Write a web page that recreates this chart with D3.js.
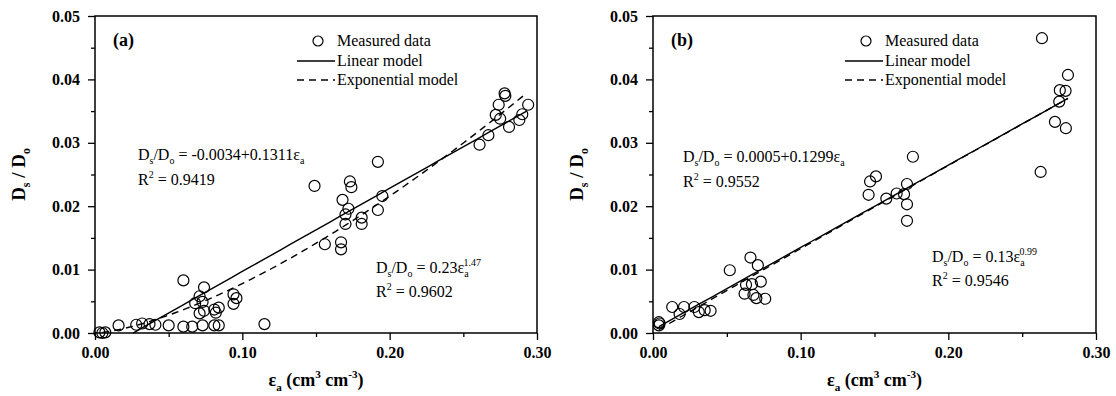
<!DOCTYPE html>
<html>
<head>
<meta charset="utf-8">
<script src="https://cdn.jsdelivr.net/npm/d3@7"></script>
<style>
  html, body { margin: 0; padding: 0; background: #fff; }
  svg { display: block; }
  text { font-family: "Liberation Serif", "Times New Roman", serif; fill: #000; }
</style>
</head>
<body>
<svg id="chart" width="1116" height="396"></svg>
<script>
// Panel (a): air-filled porosity vs relative gas diffusivity
const eaA = [0.003, 0.005, 0.007, 0.016, 0.028, 0.032, 0.037, 0.041, 0.050, 0.060, 0.066, 0.073, 0.081, 0.084, 0.115,
  0.060, 0.074, 0.071, 0.068, 0.073, 0.071, 0.074, 0.081, 0.084, 0.082, 0.094, 0.094, 0.096,
  0.149, 0.156, 0.167, 0.167, 0.168, 0.170, 0.170, 0.172, 0.173, 0.174, 0.181, 0.181, 0.192, 0.192, 0.195,
  0.261, 0.267, 0.272, 0.274, 0.278, 0.2785, 0.275, 0.281, 0.288, 0.290, 0.294];
const dsA = [0.0001, 0.0000, 0.0001, 0.0012, 0.0013, 0.0015, 0.0014, 0.0013, 0.0012, 0.0010, 0.0010, 0.0012, 0.0012, 0.0012, 0.0014,
  0.0083, 0.0072, 0.0058, 0.0047, 0.0049, 0.0031, 0.0035, 0.0037, 0.0040, 0.0032, 0.0061, 0.0046, 0.0055,
  0.0232, 0.0140, 0.0143, 0.0132, 0.0210, 0.0187, 0.0172, 0.0196, 0.0239, 0.0230, 0.0182, 0.0172, 0.0270, 0.0194, 0.0216,
  0.0297, 0.0312, 0.0344, 0.0360, 0.0378, 0.0374, 0.0338, 0.0325, 0.0336, 0.0345, 0.0360];

// Panel (b)
const eaB = [0.004, 0.0045, 0.004, 0.013, 0.018, 0.021, 0.028, 0.031, 0.035, 0.039, 0.052, 0.066, 0.071, 0.063, 0.067, 0.073, 0.062, 0.068, 0.070, 0.076,
  0.146, 0.147, 0.151, 0.158, 0.165, 0.170, 0.172, 0.172, 0.172, 0.176,
  0.2625, 0.2634, 0.2722, 0.2796, 0.2751, 0.2755, 0.2794, 0.281];
const dsB = [0.0012, 0.0015, 0.0017, 0.0041, 0.0030, 0.0041, 0.0041, 0.0033, 0.0036, 0.0035, 0.0099, 0.0119, 0.0107, 0.0076, 0.0077, 0.0081, 0.0062, 0.0060, 0.0055, 0.0054,
  0.0218, 0.0239, 0.0247, 0.0212, 0.0220, 0.0219, 0.0235, 0.0203, 0.0177, 0.0278,
  0.0254, 0.0465, 0.0333, 0.0323, 0.0365, 0.0383, 0.0382, 0.0407];

// Fitted model coefficients: linear (a + b*x) and power (c * x^p)
const linA = [-0.0034, 0.1311], powA = [0.23, 1.47];
const linB = [0.0005, 0.1299], powB = [0.13, 0.99];
const linRangeA = [0.0259, 0.293], powRangeA = [0.005, 0.293];
const linRangeB = [0.004, 0.281], powRangeB = [0.004, 0.281];

const xTicks = [0, 0.10, 0.20, 0.30];
const xMinor = [0.05, 0.15, 0.25];
const yTicks = [0, 0.01, 0.02, 0.03, 0.04, 0.05];
const yMinor = [0.005, 0.015, 0.025, 0.035, 0.045];

const svg = d3.select("#chart");

// Writes a text run with subscripts/superscripts as tspans
function rich(textSel, parts, size) {
  let shift = 0;
  parts.forEach(([t, kind, dx]) => {
    const target = kind === "sub" ? size * 0.28 : kind === "sup" ? -size * 0.42 : 0;
    const ts = textSel.append("tspan").text(t).attr("dy", target - shift);
    if (kind !== "n") ts.attr("font-size", size * 0.62);
    if (dx) ts.attr("dx", dx);
    shift = target;
  });
}

function panel(cfg) {
  const x = d3.scaleLinear().domain([0, 0.30]).range([cfg.left, cfg.right]);
  const y = d3.scaleLinear().domain([0, 0.05]).range([333, 16]);
  const g = svg.append("g");

  // Axes: major ticks with labels, then minor ticks
  const fmtX = d3.format(".2f");
  g.append("g").attr("transform", "translate(0,333)")
    .call(d3.axisBottom(x).tickValues(xTicks).tickFormat(fmtX).tickSize(7).tickPadding(7))
    .call(a => a.select(".domain").remove())
    .call(a => a.selectAll("text").attr("font-size", 16).attr("font-weight", "bold"));
  g.append("g").attr("transform", "translate(0,333)")
    .call(d3.axisBottom(x).tickValues(xMinor).tickFormat("").tickSize(4))
    .call(a => a.select(".domain").remove());
  g.append("g").attr("transform", `translate(${cfg.left},0)`)
    .call(d3.axisLeft(y).tickValues(yTicks).tickFormat(fmtX).tickSize(7).tickPadding(8))
    .call(a => a.select(".domain").remove())
    .call(a => a.selectAll("text").attr("font-size", 16).attr("font-weight", "bold"));
  g.append("g").attr("transform", `translate(${cfg.left},0)`)
    .call(d3.axisLeft(y).tickValues(yMinor).tickFormat("").tickSize(4))
    .call(a => a.select(".domain").remove());
  g.selectAll(".tick line").attr("stroke", "#000").attr("stroke-width", 1.3);

  // Frame
  g.append("rect").attr("x", cfg.left).attr("y", 16)
    .attr("width", cfg.right - cfg.left).attr("height", 317)
    .attr("fill", "none").attr("stroke", "#000").attr("stroke-width", 1.5);

  // Model curves
  const lineGen = d3.line().x(d => x(d[0])).y(d => y(d[1]));
  const linPts = d3.range(0, 41).map(i => {
    const e = cfg.linRange[0] + (cfg.linRange[1] - cfg.linRange[0]) * i / 40;
    return [e, cfg.lin[0] + cfg.lin[1] * e];
  });
  const powPts = d3.range(0, 81).map(i => {
    const e = cfg.powRange[0] + (cfg.powRange[1] - cfg.powRange[0]) * i / 80;
    return [e, cfg.pow[0] * Math.pow(e, cfg.pow[1])];
  });
  g.append("path").attr("d", lineGen(powPts)).attr("fill", "none")
    .attr("stroke", "#000").attr("stroke-width", 1.4).attr("stroke-dasharray", "7,5");
  g.append("path").attr("d", lineGen(linPts)).attr("fill", "none")
    .attr("stroke", "#000").attr("stroke-width", 1.4);

  // Measured points
  g.selectAll("circle.pt").data(cfg.ea.map((e, i) => [e, cfg.ds[i]])).join("circle")
    .attr("class", "pt").attr("cx", d => x(d[0])).attr("cy", d => y(d[1])).attr("r", 5.5)
    .attr("fill", "none").attr("stroke", "#000").attr("stroke-width", 1.2);

  // Panel tag
  g.append("text").attr("x", cfg.left + 18).attr("y", 46)
    .attr("font-size", 18).attr("font-weight", "bold").text(cfg.tag);

  // Legend
  const lx = cfg.legendX;
  g.append("circle").attr("cx", lx + 21).attr("cy", 41).attr("r", 5)
    .attr("fill", "none").attr("stroke", "#000").attr("stroke-width", 1.2);
  g.append("line").attr("x1", lx).attr("x2", lx + 38).attr("y1", 61).attr("y2", 61)
    .attr("stroke", "#000").attr("stroke-width", 1.4);
  g.append("line").attr("x1", lx).attr("x2", lx + 38).attr("y1", 80).attr("y2", 80)
    .attr("stroke", "#000").attr("stroke-width", 1.4).attr("stroke-dasharray", "7,5");
  [["Measured data", 46], ["Linear model", 66], ["Exponential model", 85]].forEach(([t, yy]) => {
    g.append("text").attr("x", lx + 40).attr("y", yy).attr("font-size", 16).text(t);
  });

  // Fit equations
  const fs = 16;
  const e1 = g.append("text").attr("x", cfg.eq1[0]).attr("y", cfg.eq1[1]).attr("font-size", fs);
  rich(e1, [["D", "n"], ["s", "sub"], ["/D", "n"], ["o", "sub"], [" = " + cfg.linText + "ε", "n"], ["a", "sub"]], fs);
  const r1 = g.append("text").attr("x", cfg.eq1[0]).attr("y", cfg.eq1[1] + 25).attr("font-size", fs);
  rich(r1, [["R", "n"], ["2", "sup"], [" = " + cfg.r2lin, "n"]], fs);
  const e2 = g.append("text").attr("x", cfg.eq2[0]).attr("y", cfg.eq2[1]).attr("font-size", fs);
  rich(e2, [["D", "n"], ["s", "sub"], ["/D", "n"], ["o", "sub"], [" = " + cfg.powText + "ε", "n"], ["a", "sub"], [cfg.powExp, "sup", -5]], fs);
  const r2 = g.append("text").attr("x", cfg.eq2[0]).attr("y", cfg.eq2[1] + 24).attr("font-size", fs);
  rich(r2, [["R", "n"], ["2", "sup"], [" = " + cfg.r2pow, "n"]], fs);

  // Axis titles
  const xt = g.append("text").attr("x", (cfg.left + cfg.right) / 2).attr("y", 386)
    .attr("text-anchor", "middle").attr("font-size", 18).attr("font-weight", "bold");
  rich(xt, [["ε", "n"], ["a", "sub"], [" (cm", "n"], ["3", "sup"], [" cm", "n"], ["-3", "sup"], [")", "n"]], 18);
  const yt = g.append("text").attr("transform", `translate(${cfg.left - 70},174.5) rotate(-90)`)
    .attr("text-anchor", "middle").attr("font-size", 19).attr("font-weight", "bold");
  rich(yt, [["D", "n"], ["s", "sub"], [" / D", "n"], ["o", "sub"]], 19);
}

panel({
  left: 95, right: 537, tag: "(a)", ea: eaA, ds: dsA,
  lin: linA, pow: powA, linRange: linRangeA, powRange: powRangeA,
  legendX: 297, eq1: [138, 160], eq2: [376, 273],
  linText: "-0.0034+0.1311", r2lin: "0.9419", powText: "0.23", powExp: "1.47", r2pow: "0.9602"
});
panel({
  left: 653, right: 1096, tag: "(b)", ea: eaB, ds: dsB,
  lin: linB, pow: powB, linRange: linRangeB, powRange: powRangeB,
  legendX: 845, eq1: [683, 162], eq2: [932, 262],
  linText: "0.0005+0.1299", r2lin: "0.9552", powText: "0.13", powExp: "0.99", r2pow: "0.9546"
});
</script>
</body>
</html>
